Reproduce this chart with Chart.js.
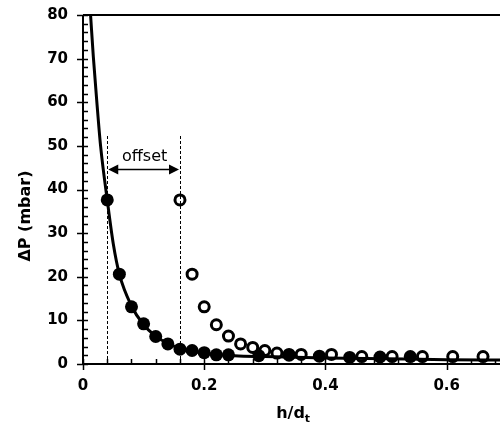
<!DOCTYPE html>
<html>
<head>
<meta charset="utf-8">
<script src="https://cdn.jsdelivr.net/npm/chart.js@4.4.1/dist/chart.umd.min.js"></script>
<style>
  html, body { margin: 0; padding: 0; background: #fff; overflow: hidden; }
</style>
</head>
<body>
<canvas id="offsetChart" width="500" height="423"></canvas>
<script>
// measured points (h/dt , ΔP mbar)
const filledX = [0.04, 0.06, 0.08, 0.10, 0.12, 0.14, 0.16, 0.18, 0.20, 0.22, 0.24, 0.29, 0.34, 0.39, 0.44, 0.49, 0.54];
const filledY = [37.6, 20.6, 13.1, 9.2, 6.3, 4.6, 3.4, 3.1, 2.6, 2.1, 2.1, 1.9, 2.0, 1.8, 1.5, 1.6, 1.7];

// same series shifted (open circles)
const openX = [0.16, 0.18, 0.20, 0.22, 0.24, 0.26, 0.28, 0.30, 0.32, 0.34, 0.36, 0.41, 0.46, 0.51, 0.56, 0.61, 0.66];
const openY = [37.6, 20.6, 13.1, 9.0, 6.4, 4.6, 3.8, 3.1, 2.5, 2.2, 2.2, 2.2, 1.7, 1.7, 1.7, 1.7, 1.7];

// fitted curve
const fitX = [0.0125, 0.017, 0.0226, 0.029, 0.04, 0.05, 0.06, 0.08, 0.10, 0.12, 0.14, 0.16, 0.20, 0.25, 0.30, 0.40, 0.50, 0.60, 0.70];
const fitY = [80, 70.5, 60.5, 50, 37.6, 27.5, 20.6, 13.3, 9.0, 6.4, 4.7, 3.6, 2.5, 1.9, 1.7, 1.4, 1.2, 1.0, 0.9];

// offset annotation
const offsetFrom = 0.04;
const offsetTo = 0.16;
const markerTop = 52.5;
const arrowY = 44.6;
const offsetLabel = "offset";

const xTickValues = [0, 0.2, 0.4, 0.6];
const yTickValues = [0, 10, 20, 30, 40, 50, 60, 70, 80];

const toPts = (xs, ys) => xs.map((x, i) => ({ x: x, y: ys[i] }));

const FONT = '"DejaVu Sans", sans-serif';

const axesPlugin = {
    id: "axesPlugin",
    afterDatasetsDraw(chart) {
        const ctx = chart.ctx;
        const a = chart.chartArea;
        const xs = chart.scales.x;
        const ys = chart.scales.y;

        ctx.save();

        // dashed markers
        ctx.strokeStyle = "#000";
        ctx.lineWidth = 1;
        ctx.setLineDash([3, 2]);
        [offsetFrom, offsetTo].forEach(v => {
            const px = Math.round(xs.getPixelForValue(v)) + 0.5;
            ctx.beginPath();
            ctx.moveTo(px, ys.getPixelForValue(0));
            ctx.lineTo(px, ys.getPixelForValue(markerTop));
            ctx.stroke();
        });
        ctx.setLineDash([]);

        // double arrow
        const x1 = xs.getPixelForValue(offsetFrom) + 1;
        const x2 = xs.getPixelForValue(offsetTo) - 1;
        const ay = Math.round(ys.getPixelForValue(arrowY)) + 0.5;
        ctx.lineWidth = 1.5;
        ctx.beginPath();
        ctx.moveTo(x1 + 4, ay);
        ctx.lineTo(x2 - 4, ay);
        ctx.stroke();
        ctx.fillStyle = "#000";
        ctx.beginPath();
        ctx.moveTo(x1, ay); ctx.lineTo(x1 + 10, ay - 5); ctx.lineTo(x1 + 10, ay + 5); ctx.closePath();
        ctx.fill();
        ctx.beginPath();
        ctx.moveTo(x2, ay); ctx.lineTo(x2 - 10, ay - 5); ctx.lineTo(x2 - 10, ay + 5); ctx.closePath();
        ctx.fill();

        ctx.font = "16px " + FONT;
        ctx.textAlign = "center";
        ctx.textBaseline = "alphabetic";
        ctx.fillText(offsetLabel, (x1 + x2) / 2 + 1, ay - 9);

        // axes lines
        ctx.lineWidth = 2;
        ctx.beginPath();
        ctx.moveTo(a.left, a.top);
        ctx.lineTo(a.left, a.bottom);
        ctx.lineTo(a.right, a.bottom);
        ctx.moveTo(a.left, a.top);
        ctx.lineTo(a.right, a.top);
        ctx.stroke();

        // y ticks
        ctx.lineWidth = 1.5;
        ctx.beginPath();
        for (let v = 0; v <= 80; v += 2) {
            const py = Math.round(ys.getPixelForValue(v)) + 0.5;
            if (v % 10 === 0) {
                ctx.moveTo(a.left - 6, py);
                ctx.lineTo(a.left + 5, py);
            } else {
                ctx.moveTo(a.left, py);
                ctx.lineTo(a.left + 5, py);
            }
        }
        // x ticks
        for (let k = 0; k * 0.04 <= xs.max; k++) {
            const v = k * 0.04;
            const px = Math.round(xs.getPixelForValue(v)) + 0.5;
            if (k % 5 === 0) {
                ctx.moveTo(px, a.bottom + 6);
                ctx.lineTo(px, a.bottom - 5);
            } else {
                ctx.moveTo(px, a.bottom);
                ctx.lineTo(px, a.bottom - 5);
            }
        }
        ctx.stroke();

        // x title h/dt
        ctx.font = "bold 16px " + FONT;
        ctx.textAlign = "left";
        const main = "h/d";
        const w = ctx.measureText(main).width;
        const cx = 294;
        ctx.fillText(main, cx - (w + 7) / 2, 418);
        ctx.font = "bold 11px " + FONT;
        ctx.fillText("t", cx - (w + 7) / 2 + w, 422);

        // y title
        ctx.font = "bold 16px " + FONT;
        ctx.translate(30, 216);
        ctx.rotate(-Math.PI / 2);
        ctx.textAlign = "center";
        ctx.fillText("\u0394P (mbar)", 0, 0);

        ctx.restore();
    }
};

const ctx = document.getElementById("offsetChart").getContext("2d");

new Chart(ctx, {
    type: "scatter",
    data: {
        datasets: [
            {
                label: "fit",
                data: toPts(fitX, fitY),
                showLine: true,
                borderColor: "#000",
                borderWidth: 3,
                pointRadius: 0,
                cubicInterpolationMode: "monotone"
            },
            {
                label: "filled",
                data: toPts(filledX, filledY),
                backgroundColor: "#000",
                borderColor: "#000",
                borderWidth: 0,
                pointRadius: 6.5,
                clip: false
            },
            {
                label: "open",
                data: toPts(openX, openY),
                backgroundColor: "#fff",
                borderColor: "#000",
                borderWidth: 3,
                pointRadius: 5,
                clip: false
            }
        ]
    },
    plugins: [axesPlugin],
    options: {
        responsive: false,
        animation: false,
        events: [],
        layout: { autoPadding: false, padding: { top: 15, right: 0, left: 0, bottom: 0 } },
        plugins: {
            legend: { display: false },
            tooltip: { enabled: false }
        },
        scales: {
            x: {
                type: "linear",
                min: 0,
                max: 0.688,
                border: { display: false },
                grid: { display: false, drawTicks: false },
                afterBuildTicks: s => { s.ticks = xTickValues.map(v => ({ value: v })); },
                afterFit: s => { s.height = 59; s.paddingLeft = 0; s.paddingRight = 0; },
                ticks: {
                    padding: 13,
                    color: "#000",
                    font: { family: FONT, size: 15, weight: "bold" },
                    callback: v => String(v)
                }
            },
            y: {
                min: 0,
                max: 80,
                border: { display: false },
                grid: { display: false, drawTicks: false },
                afterBuildTicks: s => { s.ticks = yTickValues.map(v => ({ value: v })); },
                afterFit: s => { s.width = 83; s.paddingTop = 0; s.paddingBottom = 0; },
                ticks: {
                    padding: 15,
                    color: "#000",
                    font: { family: FONT, size: 15, weight: "bold" }
                }
            }
        }
    }
});
</script>
</body>
</html>
